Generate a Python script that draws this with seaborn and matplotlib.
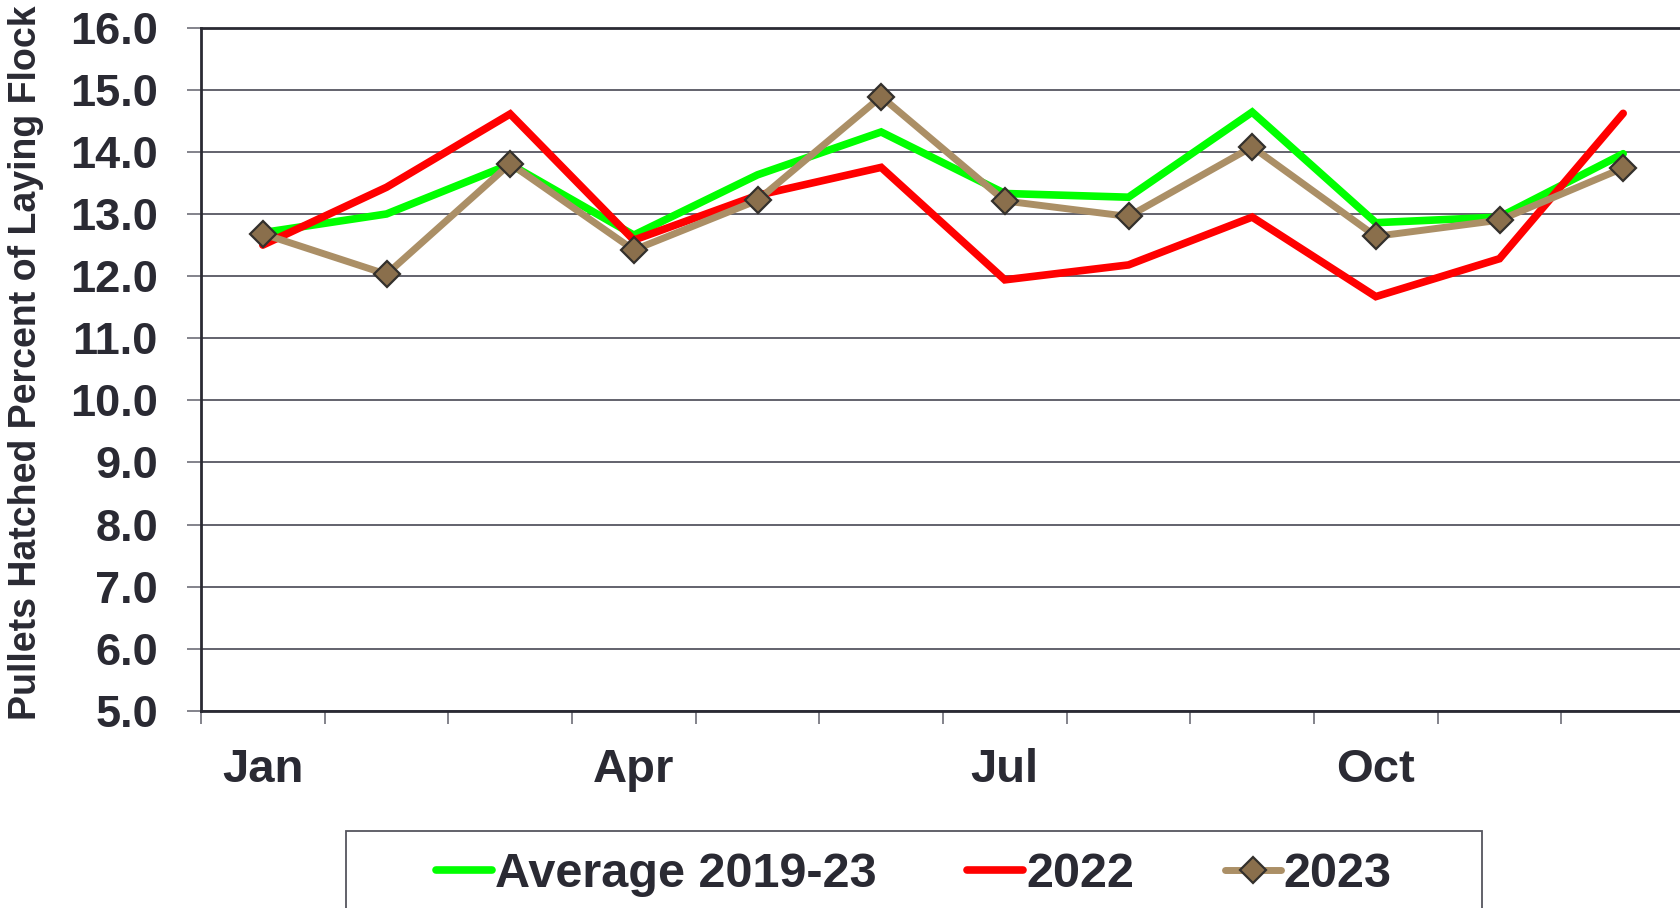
import numpy as np
import pandas as pd
import seaborn as sns
import matplotlib.pyplot as plt
from matplotlib.patches import Rectangle
from matplotlib.ticker import FormatStrFormatter

# monthly values
months = ['Jan', 'Feb', 'Mar', 'Apr', 'May', 'Jun',
          'Jul', 'Aug', 'Sep', 'Oct', 'Nov', 'Dec']
avg = [12.70, 13.00, 13.80, 12.66, 13.63, 14.32, 13.33, 13.27, 14.64, 12.86, 12.95, 13.97]
y2022 = [12.50, 13.43, 14.61, 12.58, 13.30, 13.75, 11.94, 12.18, 12.95, 11.67, 12.28, 14.62]
y2023 = [12.68, 12.03, 13.81, 12.42, 13.22, 14.89, 13.21, 12.96, 14.08, 12.64, 12.90, 13.74]
labelled = ['Jan', 'Apr', 'Jul', 'Oct']

sns.set_theme(style='white')
plt.rcParams['font.family'] = ['Liberation Sans', 'DejaVu Sans']
plt.rcParams['font.weight'] = 'bold'
ink = '#2a2a33'

df = pd.DataFrame({'pos': np.arange(len(months)) + 0.5, 'month': months,
                   'avg': avg, 'y2022': y2022, 'y2023': y2023})

fig = plt.figure(figsize=(16.8, 9.08), dpi=100)
ax = fig.add_axes([201/1680, 1 - 711/908, 1484/1680, (711 - 27.6)/908])

line_kw = dict(solid_capstyle='round', solid_joinstyle='miter')
sns.lineplot(data=df, x='pos', y='avg', ax=ax, color='#00ff00', lw=5.5,
             label='Average 2019-23', **line_kw)
sns.lineplot(data=df, x='pos', y='y2022', ax=ax, color='#ff0000', lw=5.5,
             label='2022', **line_kw)
sns.lineplot(data=df, x='pos', y='y2023', ax=ax, color='#ab8f66', lw=5,
             label='2023', marker='D', markersize=13,
             markerfacecolor='#8a6f4c', markeredgecolor='#33302c',
             markeredgewidth=1.6, **line_kw)

ax.set_xlim(0, len(months))
ax.set_ylim(5, 16)
ax.set_yticks(np.arange(5, 16.5, 1))
ax.yaxis.set_major_formatter(FormatStrFormatter('%.1f'))
ax.set_xticks(np.arange(0, len(months) + 1))
ax.set_xticklabels([])
ax.set_xticks([months.index(m) + 0.5 for m in labelled], minor=True)
ax.set_xticklabels(labelled, minor=True)

ax.yaxis.grid(True, color='#62626c', lw=1.4)
ax.xaxis.grid(False)
ax.set_axisbelow(True)

ax.tick_params(axis='y', which='major', direction='out', length=10, width=1.2,
               color='#6e6e78', pad=21, labelsize=32.5, labelcolor=ink, left=True)
ax.tick_params(axis='x', which='major', direction='out', length=9, width=1.2,
               color='#6e6e78', bottom=True)
ax.tick_params(axis='x', which='minor', length=0, pad=27, labelsize=34,
               labelcolor=ink, bottom=True)
for lab in ax.get_xticklabels(minor=True) + ax.get_yticklabels():
    lab.set_fontweight('bold')

for side in ['left', 'bottom', 'top']:
    ax.spines[side].set_color(ink)
    ax.spines[side].set_linewidth(2)
ax.spines['right'].set_visible(False)

ax.set_xlabel('')
ax.set_ylabel('Pullets Hatched Percent of Laying Flock', fontsize=27,
              fontweight='bold', color=ink)
ax.yaxis.set_label_coords(-0.106, 0.51)

leg = ax.legend(loc='center', bbox_to_anchor=(0.544, 0.037),
                bbox_transform=fig.transFigure, ncol=3, frameon=False,
                fontsize=35, handlelength=1.15, handletextpad=0.06,
                columnspacing=1.87)
for t in leg.get_texts():
    t.set_color(ink)
    t.set_fontweight('bold')

fig.add_artist(Rectangle((346/1680, -0.05), 1136/1680, 0.05 + 1 - 831/908,
                         transform=fig.transFigure, fill=False,
                         edgecolor='#55555e', lw=1.3))

fig.savefig('out.png', dpi=100)
